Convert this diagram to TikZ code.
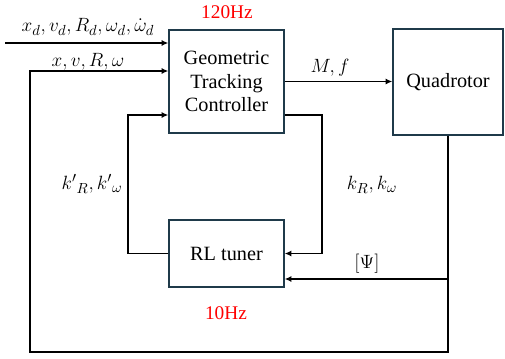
\documentclass[tikz,border=0pt]{standalone}
\usepackage{fontspec}
\setmainfont{Liberation Serif}
\usetikzlibrary{arrows.meta}
\definecolor{boxcol}{HTML}{1F3A4A}
\definecolor{hzred}{HTML}{FF0000}
\tikzset{
  blk/.style={draw=boxcol, line width=1pt, align=center, inner sep=0pt,
    font=\fontsize{15.2}{17.5}\selectfont},
  conn/.style={line width=1pt, -{Latex[length=5pt,width=4.5pt]}},
  lbl/.style={font=\fontsize{15.5}{17}\selectfont, inner sep=0pt},
  hz/.style={font=\fontsize{14.5}{17}\selectfont, text=hzred, inner sep=0pt}
}
\begin{document}
\begin{tikzpicture}[x=0.75pt,y=-0.75pt]
\useasboundingbox (0,0) rectangle (505,358);
% blocks
\node[blk, minimum width=86.25pt, minimum height=77.25pt] (ctrl) at (226.5,81.5)
  {Geometric\\Tracking\\Controller};
\node[blk, minimum width=82.5pt, minimum height=79.5pt] (quad) at (448,82) {Quadrotor};
\node[blk, minimum width=86.25pt, minimum height=50.25pt] (rl) at (226.5,253.5) {RL tuner};
% coordinates
\coordinate (in1) at (5,43);
\coordinate (fb) at (30,71);
\coordinate (bl) at (30,352);
\coordinate (psi) at (0,279);
\coordinate (kl) at (128,115);
\coordinate (kr) at (322,115);
% connectors
\draw[conn] (in1) -- (in1 -| ctrl.west);
\draw[conn] (quad.south) |- (bl) |- (fb -| ctrl.west);
\draw[conn] (quad.south |- psi) -- (rl.east |- psi);
\draw[conn] (ctrl.east) -- (ctrl.east -| quad.west);
\draw[conn] (rl.west) -| (kl) -- (kl -| ctrl.west);
\draw[conn] (kr -| ctrl.east) -- (kr) |- (rl.east);
% labels
\node[lbl] (l1) at (88,27) {$x_d, v_d, R_d, \omega_d, \dot\omega_d$};
\node[lbl] (l2) at (88,62) {$x, v, R, \omega$};
\node[lbl] (l3) at (330,68) {$M, f$};
\node[lbl] (l4) at (92,184) {${k'}_R, {k'}_\omega$};
\node[lbl] (l5) at (372,185) {$k_R, k_\omega$};
\node[lbl] (l6) at (367,264) {$[\Psi]$};
\node[hz] (h1) at (227,12) {120Hz};
\node[hz] (h2) at (226,313) {10Hz};
\end{tikzpicture}
\end{document}
